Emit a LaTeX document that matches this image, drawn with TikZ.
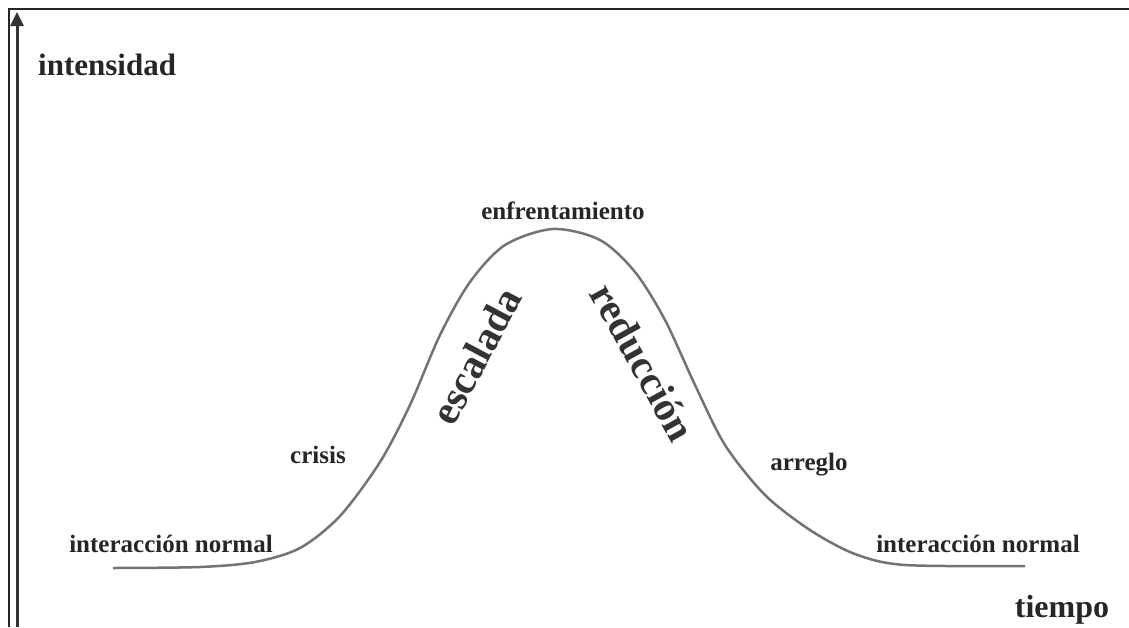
\documentclass[tikz,border=0pt]{standalone}
\usepackage{fontspec}
\setmainfont{Liberation Serif}
\usetikzlibrary{arrows.meta}

\begin{document}
\begin{tikzpicture}[x=1pt, y=-1pt,
		etiqueta/.style={text=black!85, inner sep=0pt, font=\fontsize{25}{30}\selectfont\bfseries},
		etapa/.style={text=black!80, inner sep=0pt, font=\fontsize{41}{48}\selectfont\bfseries}]
	\useasboundingbox (0,0) rectangle (1129,627);
	
	% marco y eje de intensidad
	\draw[black!85, line width=1.5pt] (9,627) -- (9,9) -- (1129,9);
	\draw[-{Triangle[width=13pt,length=14pt]}, black!80, line width=3pt] (17,627) -- (17,12);
	\node[etiqueta, anchor=base west, font=\fontsize{31}{36}\selectfont\bfseries] (intensidad) at (38,75) {intensidad};
	
	% curva del conflicto
	\draw[black!55, line width=2.5pt, smooth] plot coordinates {
		(113,568) (200,567) (255,562) (300,548) (340,516) (380,462) (410,405)
		(440,335) (470,282) (505,245) (553,229) (600,240) (635,272) (665,320)
		(695,385) (725,445) (765,495) (810,530) (855,554) (905,565) (1025,566)};
	
	% etiquetas de la curva
	\node[etiqueta, anchor=base] (normalIzq) at (171,552) {interacción normal};
	\node[etiqueta, anchor=base] (crisis) at (318,463) {crisis};
	\node[etiqueta, anchor=base] (enfrentamiento) at (563,219) {enfrentamiento};
	\node[etiqueta, anchor=base] (arreglo) at (809,470) {arreglo};
	\node[etiqueta, anchor=base] (normalDer) at (978,552) {interacción normal};
	
	% escalada y reducción a lo largo de las pendientes
	\node[etapa, rotate=62] (escalada) at (476,356) {escalada};
	\node[etapa, rotate=-61] (reduccion) at (643,362) {reducción};
	
	\node[etiqueta, anchor=base, font=\fontsize{32}{38}\selectfont\bfseries] (tiempo) at (1062,617) {tiempo};
\end{tikzpicture}
\end{document}
